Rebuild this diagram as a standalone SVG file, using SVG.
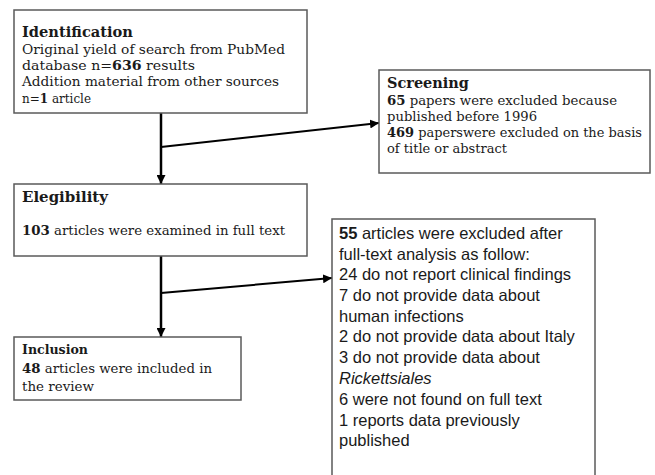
<svg xmlns="http://www.w3.org/2000/svg" width="655" height="475" viewBox="0 0 655 475">
<defs>
<style>
.box{fill:#fff;stroke:#5a5a5a;stroke-width:1.5}
.serif{font-family:"DejaVu Serif","Liberation Serif",serif;font-size:13.6px;fill:#1a1a1a}
.h{font-weight:bold;font-size:15.5px}
.hs{font-weight:bold;font-size:13.6px}
.sans{font-family:"Liberation Sans",Arial,sans-serif;font-size:16.5px;fill:#1a1a1a}
.b{font-weight:bold}
.line{stroke:#000;stroke-width:2.5;fill:none}
.diag{stroke:#000;stroke-width:2;fill:none}
</style>
<marker id="ah" viewBox="0 0 10 10" refX="10" refY="5" markerWidth="9" markerHeight="9" markerUnits="userSpaceOnUse" orient="auto">
<path d="M0,0 L10,5 L0,10 z" fill="#000"/>
</marker>
</defs>
<rect width="655" height="475" fill="#fff"/>

<g id="connectors">
<line class="line" x1="161" y1="113" x2="161" y2="184" marker-end="url(#ah)"/>
<line class="diag" x1="161" y1="147" x2="379" y2="123" marker-end="url(#ah)"/>
<line class="line" x1="161" y1="256" x2="161" y2="337" marker-end="url(#ah)"/>
<line class="diag" x1="161" y1="293" x2="332" y2="278" marker-end="url(#ah)"/>
</g>

<g id="identification">
<rect class="box" x="14" y="10" width="293" height="103"/>
<text class="serif h" x="22" y="37" textLength="111" lengthAdjust="spacingAndGlyphs">Identification</text>
<text class="serif" x="22" y="54" textLength="263" lengthAdjust="spacingAndGlyphs">Original yield of search from PubMed</text>
<text class="serif" x="22" y="70" textLength="173" lengthAdjust="spacingAndGlyphs">database n=<tspan class="b">636</tspan> results</text>
<text class="serif" x="22" y="86" textLength="257" lengthAdjust="spacingAndGlyphs">Addition material from other sources</text>
<text class="serif" x="22" y="103" textLength="69" lengthAdjust="spacingAndGlyphs">n=<tspan class="b">1</tspan> article</text>
</g>

<g id="screening">
<rect class="box" x="379" y="70" width="271" height="103"/>
<text class="serif h" x="387" y="88" textLength="82" lengthAdjust="spacingAndGlyphs">Screening</text>
<text class="serif" x="387" y="105" textLength="230" lengthAdjust="spacingAndGlyphs"><tspan class="b">65</tspan> papers were excluded because</text>
<text class="serif" x="387" y="121" textLength="150" lengthAdjust="spacingAndGlyphs">published before 1996</text>
<text class="serif" x="387" y="137" textLength="255" lengthAdjust="spacingAndGlyphs"><tspan class="b">469</tspan> paperswere excluded on the basis</text>
<text class="serif" x="387" y="153" textLength="120" lengthAdjust="spacingAndGlyphs">of title or abstract</text>
</g>

<g id="elegibility">
<rect class="box" x="14" y="184" width="293" height="72"/>
<text class="serif h" x="22" y="202" textLength="86" lengthAdjust="spacingAndGlyphs">Elegibility</text>
<text class="serif" x="22" y="235" textLength="263" lengthAdjust="spacingAndGlyphs"><tspan class="b">103</tspan> articles were examined in full text</text>
</g>

<g id="inclusion">
<rect class="box" x="14" y="337" width="227" height="63"/>
<text class="serif hs" x="22" y="354" textLength="66" lengthAdjust="spacingAndGlyphs">Inclusion</text>
<text class="serif" x="22" y="373" textLength="190" lengthAdjust="spacingAndGlyphs"><tspan class="b">48</tspan> articles were included in</text>
<text class="serif" x="22" y="391" textLength="72" lengthAdjust="spacingAndGlyphs">the review</text>
</g>

<g id="exclusion">
<rect class="box" x="332" y="219" width="263" height="270"/>
<text class="sans" x="339" y="239"><tspan class="b">55</tspan> articles were excluded after</text>
<text class="sans" x="339" y="260">full-text analysis as follow:</text>
<text class="sans" x="339" y="280">24 do not report clinical findings</text>
<text class="sans" x="339" y="301">7 do not provide data about</text>
<text class="sans" x="339" y="322">human infections</text>
<text class="sans" x="339" y="342">2 do not provide data about Italy</text>
<text class="sans" x="339" y="363">3 do not provide data about</text>
<text class="sans" x="339" y="384" font-style="italic">Rickettsiales</text>
<text class="sans" x="339" y="405">6 were not found on full text</text>
<text class="sans" x="339" y="426">1 reports data previously</text>
<text class="sans" x="339" y="446">published</text>
</g>
</svg>
